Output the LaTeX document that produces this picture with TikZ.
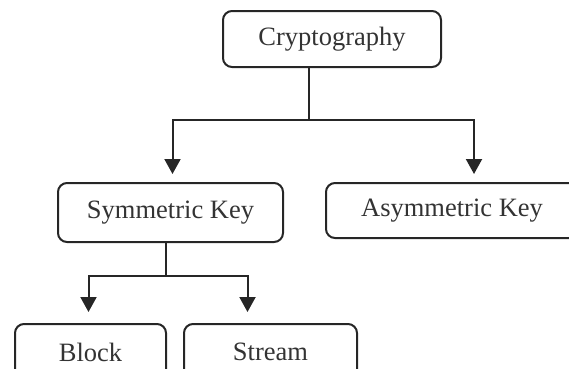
\documentclass[tikz,border=0pt]{standalone}
\usepackage{fontspec}
\setmainfont{Liberation Serif}
\usetikzlibrary{arrows.meta}
\begin{document}
\begin{tikzpicture}[x=1pt,y=-1pt,
		>={Triangle[length=15pt,width=16pt]},
		line width=2pt,draw=black!85,
		box/.style={draw=black!85,rounded corners=9pt,inner sep=0pt,
			text=black!80,font=\fontsize{26.5}{30}\selectfont}]
			\useasboundingbox (0,0) rectangle (569,368);
			\clip (0,0) rectangle (569,368);
			% boxes
			\node[box,minimum width=218pt,minimum height=56pt] (crypto) at (332,39) {Cryptography};
			\node[box,minimum width=225pt,minimum height=59pt] (sym) at (170.5,212.5) {Symmetric Key};
			\node[box,minimum width=252pt,minimum height=55pt] (asym) at (452,210.5) {Asymmetric Key};
			\node[box,minimum width=151pt,minimum height=56pt] (block) at (90.5,352) {Block};
			\node[box,minimum width=173pt,minimum height=56pt] (stream) at (270.5,352) {Stream};
			% connectors
			\coordinate (topsplit) at (309,120);
			\coordinate (lowsplit) at (166,276);
			\draw (crypto.south -| topsplit) -- (topsplit);
			\draw[->] (topsplit) -| ([xshift=2pt,yshift=8pt]sym.north);
			\draw[->] (topsplit) -| ([xshift=22pt,yshift=8pt]asym.north);
			\draw (sym.south -| lowsplit) -- (lowsplit);
			\draw[->] (lowsplit) -| ([xshift=-2pt,yshift=11pt]block.north);
			\draw[->] (lowsplit) -| ([xshift=-23pt,yshift=11pt]stream.north);
		\end{tikzpicture}
\end{document}
